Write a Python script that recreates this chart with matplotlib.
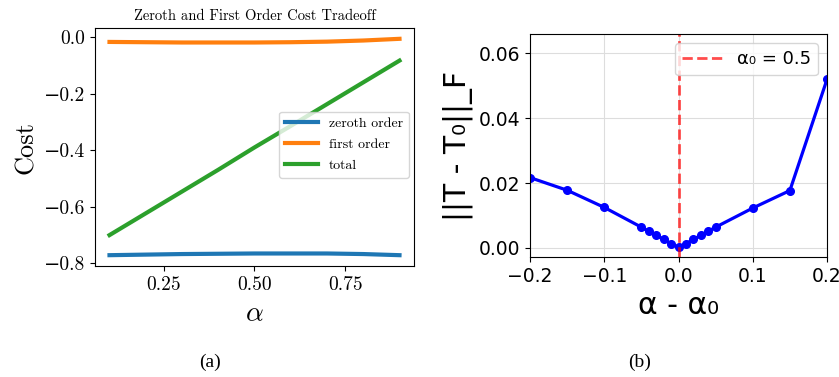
import matplotlib
matplotlib.use("Agg")
import matplotlib.pyplot as plt

# ---- data (a) ----
alpha = [0.1, 0.2, 0.3, 0.4, 0.5, 0.6, 0.7, 0.8, 0.9]
zeroth = [-0.771, -0.769, -0.767, -0.766, -0.765, -0.765, -0.765, -0.767, -0.771]
first = [-0.017, -0.018, -0.019, -0.019, -0.019, -0.018, -0.016, -0.012, -0.006]
total = [-0.700, -0.623, -0.546, -0.469, -0.390, -0.314, -0.237, -0.160, -0.083]

# ---- data (b) ----
dalpha = [-0.2, -0.15, -0.1, -0.05, -0.04, -0.03, -0.02, -0.01, 0.0,
          0.01, 0.02, 0.03, 0.04, 0.05, 0.1, 0.15, 0.2]
fnorm = [0.0217, 0.0178, 0.0125, 0.0064, 0.0051, 0.0039, 0.0026, 0.0013, 0.0002,
         0.0013, 0.0026, 0.0039, 0.0051, 0.0064, 0.0123, 0.0177, 0.0520]

plt.rcParams["mathtext.fontset"] = "cm"
fig = plt.figure(figsize=(8.39, 3.77), dpi=100)
W, H = 839, 377

def ax_rect(l, t, r, b):
    return [l / W, 1 - b / H, (r - l) / W, (b - t) / H]

# ---- panel (a) ----
ax1 = fig.add_axes(ax_rect(95, 28, 414, 266))
cm = dict(family="cmr10")
ax1.plot(alpha, zeroth, color="#1f77b4", lw=3, label="zeroth order")
ax1.plot(alpha, first, color="#ff7f0e", lw=3, label="first order")
ax1.plot(alpha, total, color="#2ca02c", lw=3, label="total")
ax1.set_xticks([0.25, 0.5, 0.75])
ax1.set_xticklabels(["0.25", "0.50", "0.75"], fontdict=cm, fontsize=14)
ax1.set_yticks([0.0, -0.2, -0.4, -0.6, -0.8])
ax1.set_yticklabels(["0.0", "\u22120.2", "\u22120.4", "\u22120.6", "\u22120.8"],
                    family=["cmr10", "DejaVu Serif"], fontsize=14)
ax1.set_xlabel(r"$\alpha$", fontsize=20)
ax1.set_ylabel("Cost", fontdict=cm, fontsize=19)
ax1.set_title("Zeroth and First Order Cost Tradeoff", fontdict=cm, fontsize=10.5)
leg1 = ax1.legend(loc="center right", prop={"family": "cmr10", "size": 10},
                  handlelength=2.4, labelspacing=0.6,
                  bbox_to_anchor=(1.005, 0.51))

# ---- panel (b) ----
ax2 = fig.add_axes(ax_rect(530, 34, 827, 257))
ax2.grid(True, color="#dddddd", lw=0.8)
ax2.set_axisbelow(True)
ax2.plot(dalpha, fnorm, color="blue", lw=2.3, marker="o", ms=5.5)
ax2.axvline(0.0, color="red", alpha=0.7, ls="--", lw=2, label="\u03b1\u2080 = 0.5")
ax2.set_xlim(-0.2, 0.2)
ax2.set_ylim(-0.0028, 0.066)
ax2.set_xticks([-0.2, -0.1, 0.0, 0.1, 0.2])
ax2.set_yticks([0.0, 0.02, 0.04, 0.06])
ax2.set_xticklabels(["\u22120.2", "\u22120.1", "0.0", "0.1", "0.2"])
ax2.set_yticklabels(["0.00", "0.02", "0.04", "0.06"])
ax2.tick_params(labelsize=13.5)
ax2.set_xlabel("\u03b1 - \u03b1\u2080", fontsize=21.5)
ax2.set_ylabel("||T - T\u2080||_F", fontsize=21.5)
ax2.legend(loc="upper right", fontsize=13, handlelength=2.2)

fig.text(210 / W, 1 - 362 / H, "(a)", ha="center", va="center",
         family="Liberation Serif", fontsize=14)
fig.text(640 / W, 1 - 362 / H, "(b)", ha="center", va="center",
         family="Liberation Serif", fontsize=14)

fig.savefig("out.png", dpi=100)
